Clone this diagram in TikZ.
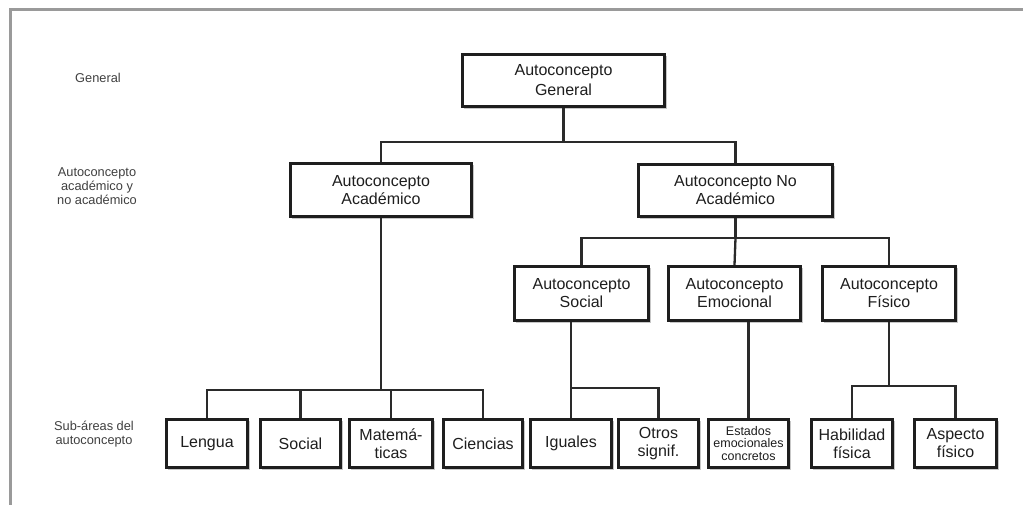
\documentclass[tikz,border=0pt]{standalone}
\usepackage{fontspec}
\setmainfont{Liberation Sans}
\usetikzlibrary{shadows}
\definecolor{ink}{HTML}{1E1E1E}
\definecolor{wire}{HTML}{2A2A2A}
\definecolor{framegray}{HTML}{9A9A9A}
\begin{document}
\begin{tikzpicture}[x=1pt,y=-1pt,
  box/.style={draw=ink, line width=2.8pt, fill=white, align=center, text=ink,
    inner sep=0pt, font=\fontsize{16}{18}\selectfont,
    drop shadow={shadow xshift=2pt, shadow yshift=-2pt, fill=black!22, opacity=1}},
  link/.style={draw=wire, line width=2.3pt},
  level/.style={align=center, text=ink!85, font=\fontsize{12.8}{14}\selectfont}]
\useasboundingbox (0,0) rectangle (1023,505);
\fill[white] (0,0) rectangle (1023,505);
% frame along the top and left edges
\draw[framegray, line width=3pt] (10.5,505) -- (10.5,9.5) -- (1023,9.5);

% level captions on the left
\node[level] (capG) at (98,78) {General};
\node[level] (capA) at (97,186) {Autoconcepto\\académico y\\no académico};
\node[level] (capS) at (94,434) {Sub-áreas del\\autoconcepto};

% top and second level
\node[box, minimum width=202.2pt, minimum height=52.2pt, font=\fontsize{16}{20}\selectfont] (gen) at (563.5,80.5) {Autoconcepto\\General};
\node[box, minimum width=181.2pt, minimum height=53.2pt] (acad) at (381,190) {Autoconcepto\\Académico};
\node[box, minimum width=194.2pt, minimum height=52.2pt] (noacad) at (735.5,190.5) {Autoconcepto No\\Académico};

% third level
\node[box, minimum width=134.2pt, minimum height=54.2pt] (soc) at (581.5,293.5) {Autoconcepto\\Social};
\node[box, minimum width=132.2pt, minimum height=54.2pt] (emo) at (734.5,293.5) {Autoconcepto\\Emocional};
\node[box, minimum width=133.2pt, minimum height=54.2pt] (fis) at (889,293.5) {Autoconcepto\\Físico};

% sub-areas
\tikzset{sub/.style={box, minimum height=48.2pt}}
\node[sub, minimum width=81.2pt] (len) at (207,443.5) {Lengua};
\node[sub, minimum width=80.2pt] (socsub) at (300.5,443.5) {Social};
\node[sub, minimum width=83.2pt] (mat) at (391,443.5) {Matemá-\\ticas};
\node[sub, minimum width=79.2pt] (cie) at (483,443.5) {Ciencias};
\node[sub, minimum width=81.2pt] (igu) at (571,443.5) {Iguales};
\node[sub, minimum width=80.2pt] (otr) at (658.5,443.5) {Otros\\signif.};
\node[sub, minimum width=80.2pt, font=\fontsize{12.5}{12.5}\selectfont] (est) at (748.5,443.5) {Estados\\emocionales\\concretos};
\node[sub, minimum width=81.2pt] (hab) at (852,443.5) {Habilidad\\física};
\node[sub, minimum width=82.2pt] (asp) at (955.5,443.5) {Aspecto\\físico};

% branch joints
\coordinate (j1) at (gen.south |- 0,142);
\coordinate (j2) at (noacad.south |- 0,238);
\coordinate (j3) at (acad.south |- 0,390);
\coordinate (j4) at (igu.north |- 0,388);
\coordinate (j5) at (fis.south |- 0,386);

% connectors
\draw[link] (gen.south) -- (j1);
\draw[link] (acad.north) |- (j1) -| (noacad.north);

\draw[link] (noacad.south) -- (j2);
\draw[link] (soc.north) |- (j2) -| (fis.north);
\draw[link] (j2) -- (emo.north);

\draw[link] (acad.south) -- (j3);
\draw[link] (len.north) |- (j3) -| (cie.north);
\draw[link] (socsub.north) -- (socsub.north |- j3);
\draw[link] (mat.north) -- (mat.north |- j3);

\draw[link] (igu.north) -- (igu.north |- soc.south);
\draw[link] (j4) -| (otr.north);

\draw[link] (est.north) -- (est.north |- emo.south);

\draw[link] (fis.south) -- (j5);
\draw[link] (hab.north) |- (j5) -| (asp.north);
\end{tikzpicture}
\end{document}
